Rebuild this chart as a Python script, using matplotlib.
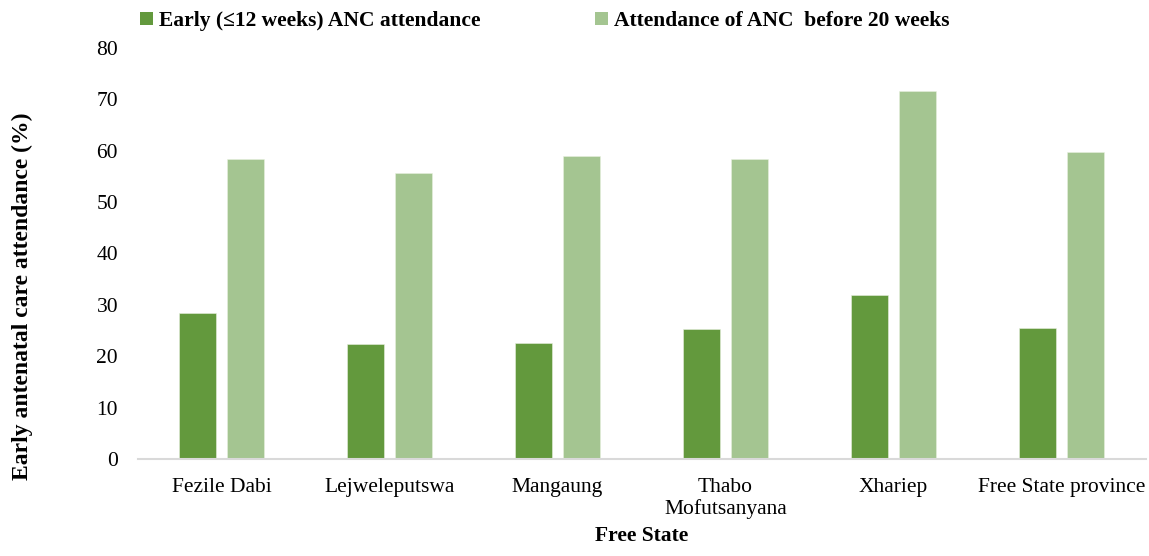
import matplotlib
matplotlib.use('Agg')
import matplotlib.pyplot as plt
from matplotlib.patches import Patch
import numpy as np

districts = ['Fezile Dabi', 'Lejweleputswa', 'Mangaung', 'Thabo\nMofutsanyana', 'Xhariep', 'Free State province']
early_12 = [28.5, 22.3, 22.5, 25.3, 31.9, 25.5]
before_20 = [58.3, 55.6, 59.0, 58.4, 71.7, 59.7]
series_names = ['Early (\u226412 weeks) ANC attendance', 'Attendance of ANC  before 20 weeks']
colors = ['#63993d', '#a4c591']

plt.rcParams['font.family'] = ['Liberation Serif', 'DejaVu Serif']

fig = plt.figure(figsize=(11.49, 5.56), dpi=100)
ax = fig.add_axes([0.1197, 0.1745, 0.8773, 0.7392])

x = np.arange(len(districts))
w = 0.223
ax.bar(x - 0.142, early_12, width=w, color=colors[0], edgecolor='#e8f0e0', linewidth=0.4, zorder=2)
ax.bar(x + 0.142, before_20, width=w, color=colors[1], edgecolor='#e8f0e0', linewidth=0.4, zorder=2)

ax.set_xlim(-0.5, len(districts) - 0.5)
ax.set_ylim(0, 80)
ax.set_yticks(range(0, 81, 10))
ax.set_xticks(x)
ax.set_xticklabels(districts, fontsize=15.5, linespacing=1.1)
ax.tick_params(axis='y', labelsize=15.5, length=0, pad=14)
ax.tick_params(axis='x', length=0, pad=14)

for s in ['top', 'right', 'left']:
    ax.spines[s].set_visible(False)
ax.spines['bottom'].set_color('#d9d9d9')
ax.spines['bottom'].set_linewidth(1.5)

# y title sits a bit low, like the original
fig.text(22 / 1149, 1 - 296 / 556, 'Early antenatal care attendance (%)', rotation=90,
         ha='center', va='center', fontsize=17, fontweight='bold')
ax.set_xlabel('Free State', fontsize=15.5, fontweight='bold', labelpad=5)

handles = [Patch(facecolor=c) for c in colors]
fig.legend(handles, series_names, loc='upper center', bbox_to_anchor=(0.474, 1.015), ncol=2,
           frameon=False, prop={'size': 15.5, 'weight': 'bold'},
           handlelength=0.6, handleheight=0.6, handletextpad=0.3, columnspacing=5.3)

fig.savefig('out.png', dpi=100)
